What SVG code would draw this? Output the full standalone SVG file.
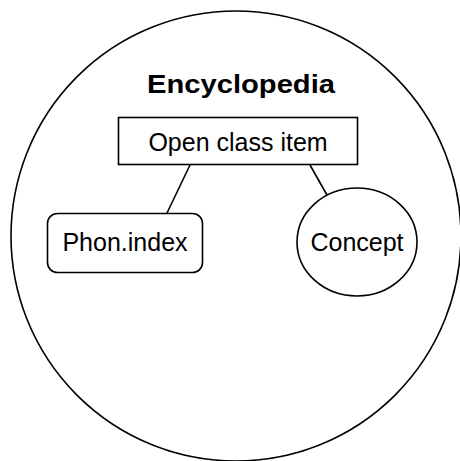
<svg xmlns="http://www.w3.org/2000/svg" width="460" height="461" viewBox="0 0 460 461">
  <style>
    .shape { fill: #ffffff; stroke: #000000; stroke-width: 1.6; }
    .edge { stroke: #000000; stroke-width: 1.6; fill: none; }
    .label { font-family: "Liberation Sans", Arial, sans-serif; font-size: 25px; fill: #000000; text-anchor: middle; }
    .title { font-weight: bold; }
  </style>
  <rect width="460" height="461" fill="#ffffff"/>
  <!-- outer container -->
  <g id="encyclopedia">
    <circle class="shape" cx="236" cy="236" r="225"/>
    <text class="label title" x="241" y="93" textLength="188" lengthAdjust="spacingAndGlyphs">Encyclopedia</text>
  </g>
  <!-- connectors -->
  <g id="connectors">
    <line class="edge" x1="190" y1="165" x2="167" y2="213"/>
    <line class="edge" x1="310" y1="165" x2="327" y2="195"/>
  </g>
  <g id="open-class-item">
    <rect class="shape" x="118.5" y="117.5" width="239" height="47"/>
    <text class="label" x="238" y="151">Open class item</text>
  </g>
  <g id="phon-index">
    <rect class="shape" x="47.5" y="213.5" width="155" height="59" rx="10" ry="10"/>
    <text class="label" x="125" y="251">Phon.index</text>
  </g>
  <g id="concept">
    <ellipse class="shape" cx="357" cy="242" rx="60" ry="54"/>
    <text class="label" x="357" y="251">Concept</text>
  </g>
</svg>
